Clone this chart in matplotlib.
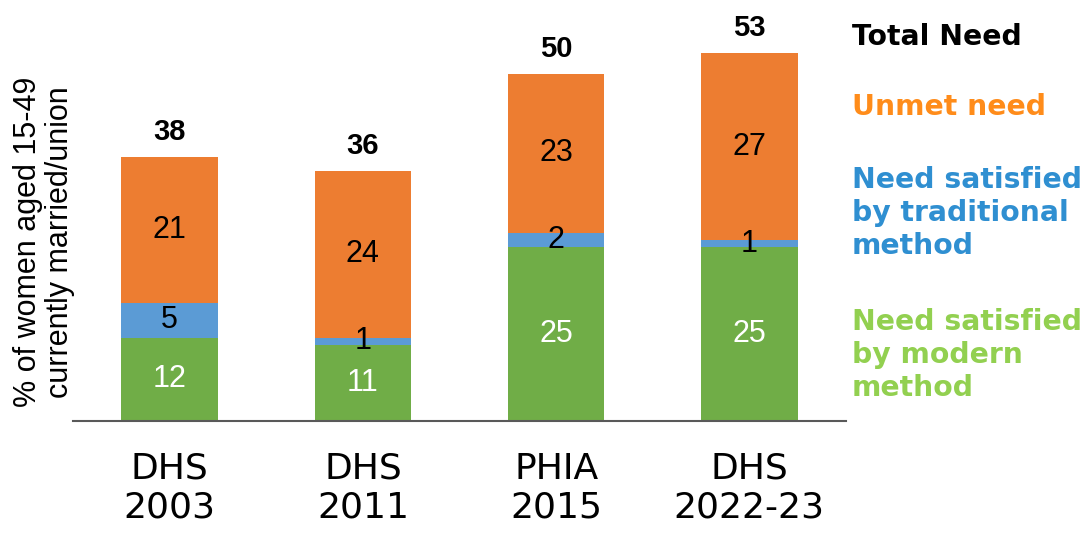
import numpy as np
import matplotlib.pyplot as plt

# datos del gráfico
surveys = ["DHS\n2003", "DHS\n2011", "PHIA\n2015", "DHS\n2022-23"]
modern = [12, 11, 25, 25]        # necesidad satisfecha, método moderno
traditional = [5, 1, 2, 1]       # necesidad satisfecha, método tradicional
unmet = [21, 24, 23, 27]         # necesidad insatisfecha
total = [38, 36, 50, 53]         # necesidad total

c_green = "#70AD47"
c_blue = "#5B9BD5"
c_orange = "#ED7D31"

fig = plt.figure(figsize=(10.91, 5.34), dpi=100)
ax = fig.add_axes([73/1091, 113/534, 773/1091, 403/534])

x = np.arange(len(surveys))
w = 0.5
modern = np.array(modern)
traditional = np.array(traditional)
unmet = np.array(unmet)

ax.bar(x, modern, w, color=c_green)
ax.bar(x, traditional, w, bottom=modern, color=c_blue)
ax.bar(x, unmet, w, bottom=modern + traditional, color=c_orange)

num_font = dict(family="Liberation Sans", fontsize=22)
for i in range(len(x)):
    ax.text(x[i], modern[i] / 2, str(modern[i]), ha="center", va="center", color="white", **num_font)
    ax.text(x[i], modern[i] + traditional[i] / 2, str(traditional[i]), ha="center", va="center", color="black", **num_font)
    ax.text(x[i], modern[i] + traditional[i] + unmet[i] / 2, str(unmet[i]), ha="center", va="center", color="black", **num_font)
    ax.annotate(str(total[i]), (x[i], total[i]), xytext=(0, 18), textcoords="offset points",
                ha="center", va="center", fontsize=21, fontweight="bold", family="Liberation Sans")

ax.set_xlim(-0.5, 3.5)
ax.set_ylim(0, 58)
ax.set_xticks(x)
ax.set_xticklabels(surveys, fontsize=26, family="DejaVu Sans", linespacing=1.2)
ax.tick_params(axis="x", length=0, pad=22)
ax.set_yticks([])
for s in ["top", "right", "left"]:
    ax.spines[s].set_visible(False)
ax.spines["bottom"].set_color("#595959")
ax.spines["bottom"].set_linewidth(1.5)

# etiqueta del eje y
fig.text(44/1091, 1 - 242/534, "% of women aged 15-49\ncurrently married/union", rotation=90,
         ha="center", va="center", multialignment="center", fontsize=22, family="Liberation Sans",
         linespacing=1.1)

# leyenda como texto
lx = 852/1091
fs = 20.3
fig.text(lx, 1 - 37/534, "Total Need", fontsize=fs, fontweight="bold", color="black", va="center")
fig.text(lx, 1 - 107/534, "Unmet need", fontsize=fs, fontweight="bold", color="#FF8C1A", va="center")
fig.text(lx, 1 - 213/534, "Need satisfied\nby traditional\nmethod", fontsize=fs, fontweight="bold",
         color="#2F8FD1", va="center", linespacing=1.24)
fig.text(lx, 1 - 355/534, "Need satisfied\nby modern\nmethod", fontsize=fs, fontweight="bold",
         color="#92D050", va="center", linespacing=1.24)

fig.savefig("out.png", dpi=100)
